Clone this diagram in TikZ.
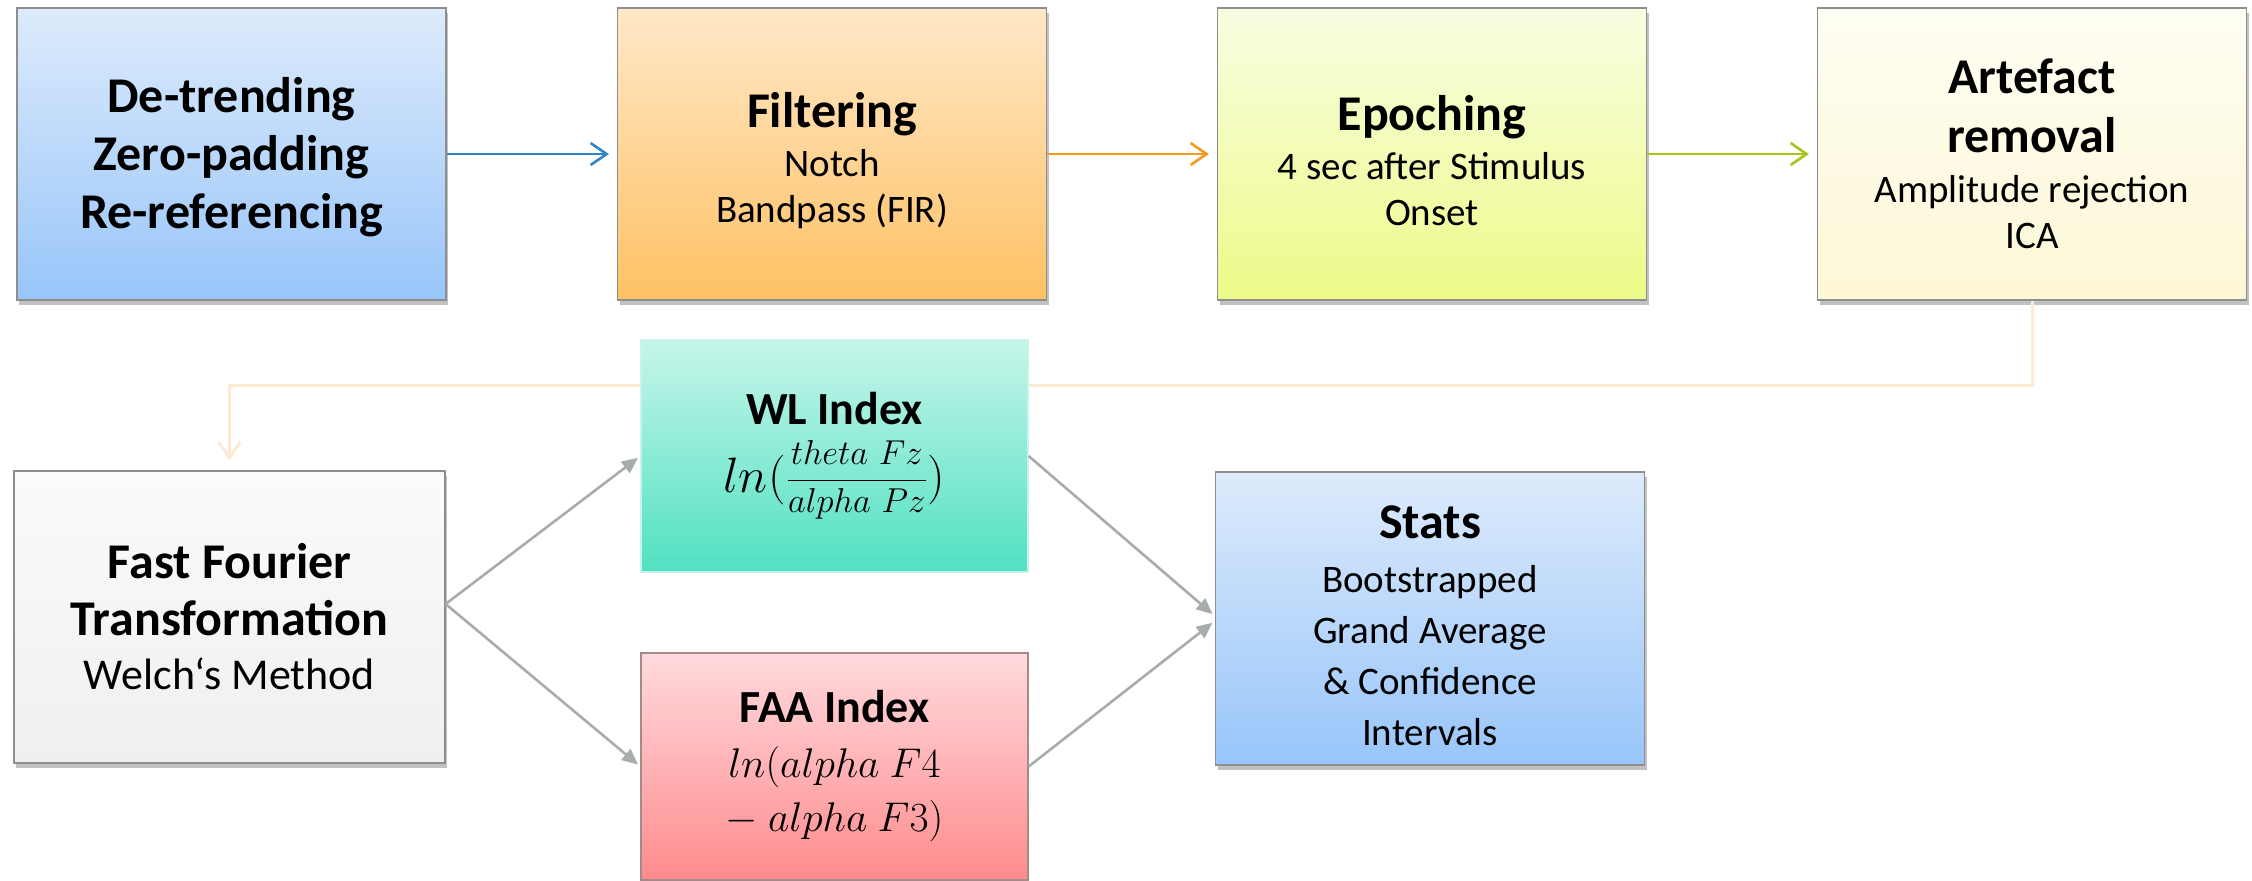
\documentclass[tikz,border=0pt]{standalone}
\usepackage[no-math]{fontspec}
\setmainfont{Carlito}
\usetikzlibrary{arrows.meta,shadows}
\definecolor{bordergray}{HTML}{8E8E8E}
\definecolor{arrblue}{HTML}{2E86C8}
\definecolor{arrorange}{HTML}{F29A1E}
\definecolor{arrgreen}{HTML}{A8C41C}
\definecolor{arrgray}{HTML}{A6ADAB}
\definecolor{fbcolor}{HTML}{FDEAD2}
\definecolor{blueT}{HTML}{DDEBFB}\definecolor{blueB}{HTML}{98C5FA}
\definecolor{orT}{HTML}{FFE8C8}\definecolor{orB}{HTML}{FFC164}
\definecolor{ygT}{HTML}{F9FDE2}\definecolor{ygB}{HTML}{EEFA88}
\definecolor{crT}{HTML}{FFFEF3}\definecolor{crB}{HTML}{FDF7D6}
\definecolor{grT}{HTML}{FAFBFB}\definecolor{grB}{HTML}{EEF0F0}
\definecolor{tlT}{HTML}{C6F5EA}\definecolor{tlB}{HTML}{50E1C1}
\definecolor{rdT}{HTML}{FFDADD}\definecolor{rdB}{HTML}{FF8B8D}
\definecolor{rdborder}{HTML}{A58A8A}
\newcommand\ttlfont{\bfseries\fontsize{25}{29}\selectfont}
\newcommand\subfont{\mdseries\fontsize{19.5}{23}\selectfont}
\begin{document}
\begin{tikzpicture}[x=0.5pt,y=-0.5pt,
  box/.style={draw=bordergray, line width=0.6pt, inner sep=0pt, align=center,
    minimum width=214.5pt, minimum height=146pt,
    drop shadow={shadow xshift=1.2pt, shadow yshift=-2.5pt, opacity=0.35, fill=black!70}},
  flowarr/.style={line width=1.3pt, -{Straight Barb[length=8pt,width=11pt,line width=1.3pt]}, shorten >=4pt},
  grayarr/.style={draw=arrgray, line width=1.3pt, -{Triangle[length=8pt,width=7pt]}, shorten >=1.5pt}]
\useasboundingbox (0,0) rectangle (2252,880);
% top row
\node[box, top color=blueT, bottom color=blueB, font=\ttlfont] (b1) at (231.5,154)
  {\rule{0pt}{21pt}De-trending\\ Zero-padding\\ Re-referencing};
\node[box, top color=orT, bottom color=orB, font=\subfont] (b2) at (832,154)
  {\rule{0pt}{24pt}{\ttlfont Filtering}\\[1.5pt] Notch\\ Bandpass (FIR)};
\node[box, top color=ygT, bottom color=ygB, font=\subfont] (b3) at (1432,154)
  {\rule{0pt}{24pt}{\ttlfont Epoching}\\[1.5pt] 4 sec after Stimulus\\ Onset};
\node[box, top color=crT, bottom color=crB, font=\subfont] (b4) at (2032,154)
  {{\ttlfont Artefact}\\[6.5pt] {\ttlfont removal}\\[2pt] Amplitude rejection\\ ICA};
% FFT
\node[box, top color=grT, bottom color=grB, minimum width=215.5pt, font=\fontsize{22}{27}\selectfont] (fft) at (229.5,617)
  {{\ttlfont Fast Fourier}\\[1.5pt] {\ttlfont Transformation}\\ Welch‘s Method};
% feedback line
\coordinate (fby) at (0,385);
\draw[fbcolor, line width=1.5pt, -{Straight Barb[length=8pt,width=11pt,line width=1.5pt]}, shorten >=5pt]
  (b4.south) -- (b4.south |- fby) -| (fft.north);
% indices
\node[draw=tlT, line width=0.6pt, top color=tlT, bottom color=tlB, inner sep=0pt, align=center,
  minimum width=193.5pt, minimum height=116pt, font=\fontsize{24}{34}\selectfont] (wl) at (834.5,456)
  {{\bfseries\fontsize{23}{27}\selectfont WL Index}\\ $ln(\frac{theta\ Fz\rule[-7.5pt]{0pt}{0pt}}{\rule{0pt}{15.5pt}alpha\ Pz})$};
\node[draw=rdborder, line width=0.6pt, top color=rdT, bottom color=rdB, inner sep=0pt, align=center,
  minimum width=193.5pt, minimum height=113.5pt, font=\fontsize{22.5}{27}\selectfont] (faa) at (834.5,766.5)
  {{\bfseries\fontsize{23}{27}\selectfont FAA Index}\\[0.5pt] $ln(alpha\ F4$\\ $-\ alpha\ F3)$};
% stats
\node[box, top color=blueT, bottom color=blueB, minimum height=146.5pt, font=\fontsize{19.5}{25.5}\selectfont] (stats) at (1430,618.5)
  {\rule{0pt}{24pt}{\ttlfont Stats}\\[1.5pt] Bootstrapped\\ Grand Average\\ \& Confidence\\ Intervals};
% connectors
\draw[flowarr, arrblue] (b1.east) -- (b2.west);
\draw[flowarr, arrorange] (b2.east) -- (b3.west);
\draw[flowarr, arrgreen] (b3.east) -- (b4.west);
\draw[grayarr] ([yshift=6.5pt]fft.east) -- (wl.west);
\draw[grayarr] ([yshift=6.5pt]fft.east) -- (faa.west);
\draw[grayarr] (wl.east) -- ([yshift=1.2pt]stats.west);
\draw[grayarr] (faa.east) -- ([yshift=-1.2pt]stats.west);
\end{tikzpicture}
\end{document}
